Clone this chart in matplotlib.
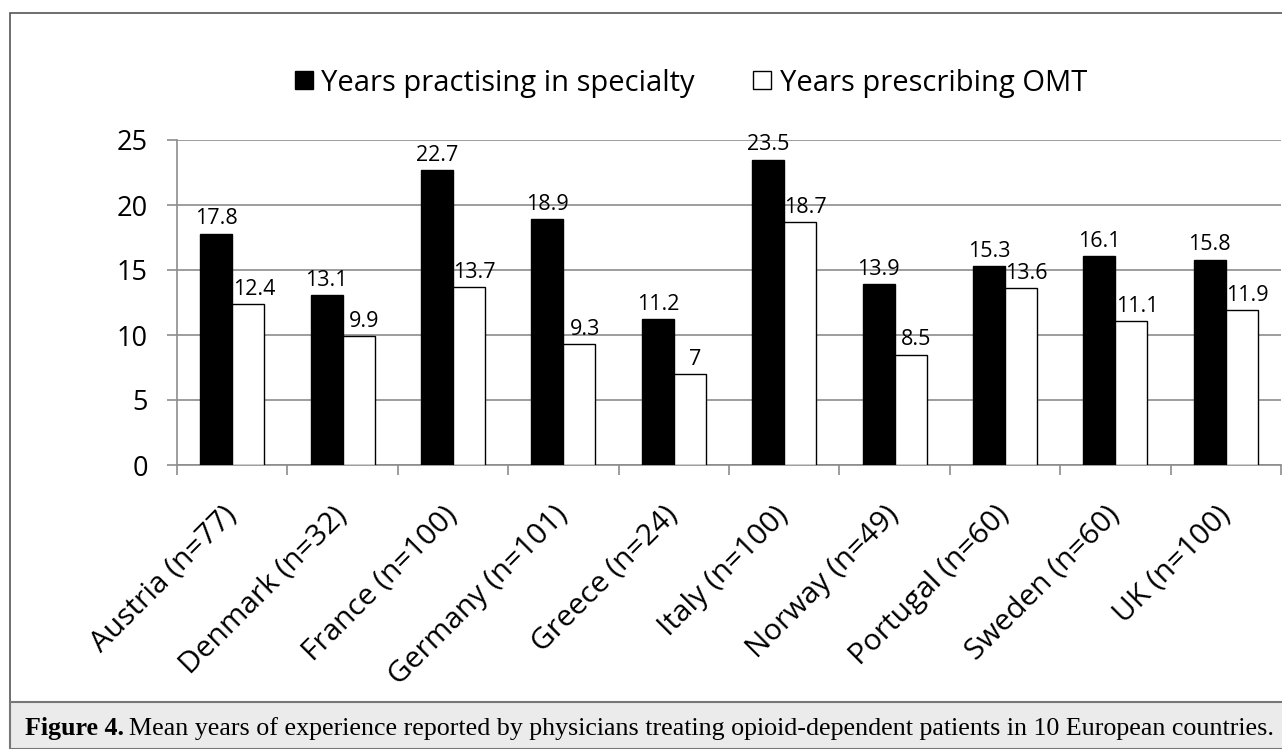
import matplotlib
matplotlib.use("Agg")
import matplotlib.pyplot as plt
from matplotlib.patches import Rectangle
import numpy as np

categories = ["Austria (n=77)", "Denmark (n=32)", "France (n=100)", "Germany (n=101)",
              "Greece (n=24)", "Italy (n=100)", "Norway (n=49)", "Portugal (n=60)",
              "Sweden (n=60)", "UK (n=100)"]
practising = [17.8, 13.1, 22.7, 18.9, 11.2, 23.5, 13.9, 15.3, 16.1, 15.8]
prescribing = [12.4, 9.9, 13.7, 9.3, 7, 18.7, 8.5, 13.6, 11.1, 11.9]
series_names = ["Years practising in specialty", "Years prescribing OMT"]
yticks = [0, 5, 10, 15, 20, 25]
caption_bold = "Figure 4."
caption_rest = "Mean years of experience reported by physicians treating opioid-dependent patients in 10 European countries."

W, H = 1282, 749
fig = plt.figure(figsize=(W / 100, H / 100), dpi=100)
FONT = "Open Sans"

# outer frame and caption bar
fig.add_artist(Rectangle((9.5 / W, 0), 1.1, (H - 12.5) / H, transform=fig.transFigure,
                         facecolor="white", edgecolor="#555555", linewidth=1.2, zorder=0))
fig.add_artist(Rectangle((9.5 / W, 0), 1.1, (H - 702) / H, transform=fig.transFigure,
                         facecolor="#ebebeb", edgecolor="#777777", linewidth=1.5, zorder=1))

ax = fig.add_axes([177 / W, (H - 465) / H, (1281 - 177) / W, (465 - 140) / H])
ax.set_facecolor("none")
n = len(categories)
x = np.arange(n) + 0.5
bw = 0.29
b1 = ax.bar(x - bw / 2, practising, width=bw, color="black", edgecolor="black",
            linewidth=1, zorder=3, label=series_names[0])
b2 = ax.bar(x + bw / 2, prescribing, width=bw, color="white", edgecolor="black",
            linewidth=1, zorder=3, label=series_names[1])

for bars, vals, dx in ((b1, practising, 0), (b2, prescribing, 4)):
    for r, v in zip(bars, vals):
        ax.annotate(f"{v:g}", (r.get_x() + r.get_width() / 2, v), xytext=(dx, 3),
                    textcoords="offset points", ha="center", va="bottom",
                    fontsize=15.5, family=FONT, color="black")

ax.set_xlim(0, n)
ax.set_ylim(0, 25)
ax.set_yticks(yticks)
ax.set_yticklabels([str(t) for t in yticks], fontsize=19.5, family=FONT)
ax.yaxis.grid(True, color="#8c8c8c", linewidth=1.2, zorder=0)
ax.set_axisbelow(True)
ax.set_xticks(np.arange(n + 1))
ax.set_xticklabels([])
ax.set_xticks(x, minor=True)
ax.set_xticklabels(categories, minor=True, rotation=45, ha="right", va="center",
                   rotation_mode="anchor", fontsize=21.5, family=FONT)
ax.tick_params(axis="x", which="major", length=7, color="#8c8c8c", width=1.2)
ax.tick_params(axis="x", which="minor", length=0, pad=33)
ax.tick_params(axis="y", length=7, color="#8c8c8c", width=1.2, pad=14)
for s in ("top", "right"):
    ax.spines[s].set_visible(False)
for s in ("left", "bottom"):
    ax.spines[s].set_color("#8c8c8c")
    ax.spines[s].set_linewidth(1.2)

leg = fig.legend(handles=[b1, b2], labels=series_names, loc="center",
                 bbox_to_anchor=(691 / W, 1 - 83 / H), ncol=2, frameon=False,
                 handlelength=0.6, handleheight=0.6, handletextpad=0.3,
                 columnspacing=2.0, prop={"family": FONT, "size": 21})

cy = (H - 729) / H
t1 = fig.text(25 / W, cy, caption_bold, family="Liberation Serif", weight="bold",
              fontsize=18.7, va="center", ha="left")
fig.canvas.draw()
bb = t1.get_window_extent(renderer=fig.canvas.get_renderer())
fig.text((bb.x1 + 5) / W, cy, caption_rest,
         family="Liberation Serif", fontsize=18.7, va="center", ha="left")

fig.savefig("out.png", dpi=100)
